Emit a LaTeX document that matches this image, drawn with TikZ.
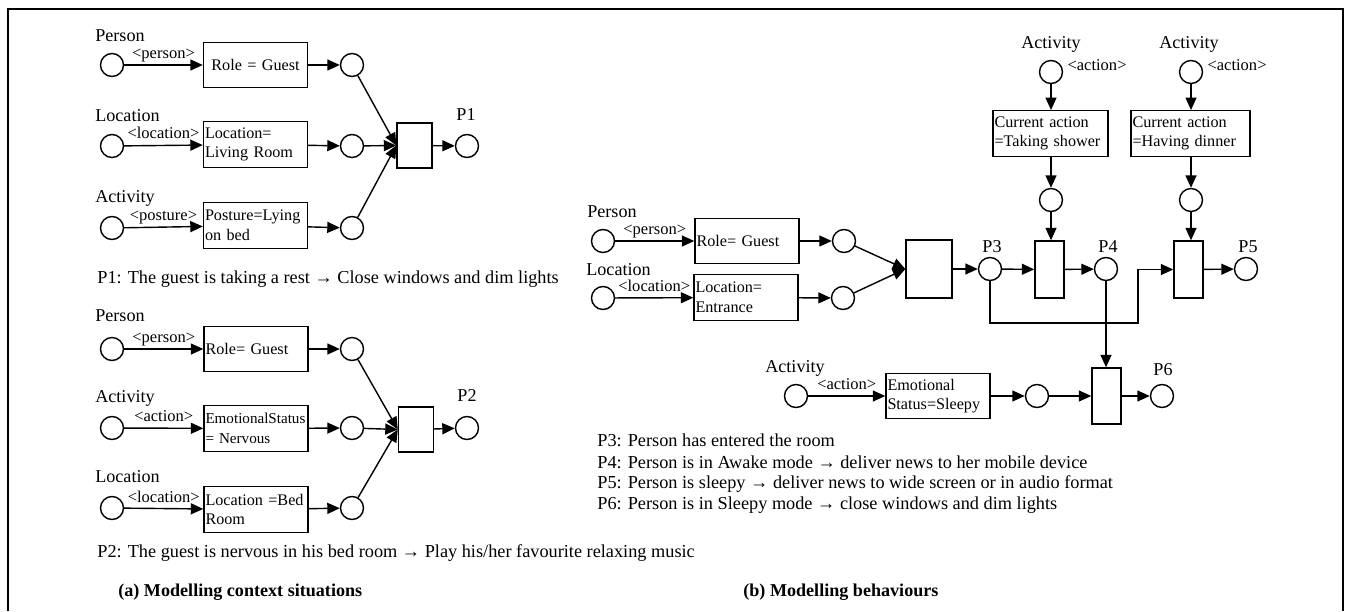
\documentclass[tikz,border=0pt]{standalone}
\usepackage{fontspec}
\setmainfont{Liberation Serif}
\usetikzlibrary{arrows.meta, positioning}

\begin{document}
\begin{tikzpicture}[
    x=0.2mm, y=-0.2mm,
    place/.style={circle, draw, line width=0.8pt, minimum size=4.6mm, inner sep=0pt},
    trans/.style={rectangle, draw, line width=0.8pt, minimum width=7mm, minimum height=9mm, inner sep=0pt},
    cond/.style={rectangle, draw, line width=0.8pt, text width=#1, inner xsep=0.3mm, inner ysep=0pt,
                 minimum height=9.1mm, align=left, font=\fontsize{9.2}{11.2}\selectfont},
    lbl/.style={anchor=base west, inner sep=0pt, font=\fontsize{10.3}{12}\selectfont},
    tag/.style={anchor=base, yshift=1.3mm, inner sep=0pt, font=\fontsize{9.4}{10}\selectfont},
    note/.style={anchor=base west, inner sep=0pt, font=\fontsize{10.4}{12.5}\selectfont},
    arrow/.style={-{Triangle[length=2.5mm, width=2.2mm]}, line width=0.8pt}
]
    \useasboundingbox (0,0) rectangle (1348,611);
    \draw[line width=1.2pt] (8,611) |- (1343,9) -- (1343,611);

    % (a) first situation
    \node[lbl] (nper1) at (95,41) {Person};
    \node[lbl] (nloc1) at (95,121) {Location};
    \node[lbl] (nact1) at (95,202) {Activity};
    \node[place] (pers1) at (112,65) {};
    \node[place] (loc1) at (112,146) {};
    \node[place] (act1) at (112,228) {};
    \node[cond=20.2mm, align=center] (role1) at (255.5,65) {Role = Guest};
    \node[cond=20.2mm] (living) at (255.5,144.5) {Location=\\Living Room};
    \node[cond=20.2mm] (lying) at (255.5,225.5) {Posture=Lying\\on bed};
    \node[place] (q11) at (352,65) {};
    \node[place] (q12) at (352,146) {};
    \node[place] (q13) at (352,228) {};
    \node[trans] (t1) at (414.5,145.5) {};
    \node[place] (p1) at (467,146) {};
    \node[lbl, anchor=base] (np1) at (466,120) {P1};
    \draw[arrow] (pers1) -- node[tag] {<person>} (role1);
    \draw[arrow] (loc1) -- node[tag] {<location>} (living);
    \draw[arrow] (act1) -- node[tag] {<posture>} (lying);
    \draw[arrow] (role1) -- (q11);
    \draw[arrow] (living) -- (q12);
    \draw[arrow] (lying) -- (q13);
    \draw[arrow] (q11) -- (t1.west);
    \draw[arrow] (q12) -- (t1.west);
    \draw[arrow] (q13) -- (t1.west);
    \draw[arrow] (t1) -- (p1);
    \node[note] (d1) at (97,283) {P1: The guest is taking a rest → Close windows and dim lights};

    % (a) second situation
    \node[lbl] (nper2) at (95,321) {Person};
    \node[lbl] (nact2) at (95,402) {Activity};
    \node[lbl] (nloc2) at (95,482) {Location};
    \node[place] (pers2) at (112,349) {};
    \node[place] (act2) at (112,428) {};
    \node[place] (loc2) at (112,508) {};
    \node[cond=20.2mm] (role2) at (256,349) {Role= Guest};
    \node[cond=20.2mm, font=\fontsize{8.6}{11.2}\selectfont] (nerv) at (256,428.5) {EmotionalStatus\\= Nervous};
    \node[cond=20.2mm] (bed) at (256,509.5) {Location =Bed\\Room};
    \node[place] (q21) at (352,349) {};
    \node[place] (q22) at (352,428) {};
    \node[place] (q23) at (352,508) {};
    \node[trans] (t2) at (416,429.5) {};
    \node[place] (p2) at (467,428) {};
    \node[lbl, anchor=base] (np2) at (467,401) {P2};
    \draw[arrow] (pers2) -- node[tag] {<person>} (role2);
    \draw[arrow] (act2) -- node[tag] {<action>} (nerv);
    \draw[arrow] (loc2) -- node[tag] {<location>} (bed);
    \draw[arrow] (role2) -- (q21);
    \draw[arrow] (nerv) -- (q22);
    \draw[arrow] (bed) -- (q23);
    \draw[arrow] (q21) -- (t2.west);
    \draw[arrow] (q22) -- (t2.west);
    \draw[arrow] (q23) -- (t2.west);
    \draw[arrow] (t2) -- (p2);
    \node[note] (d2) at (97,557) {P2: The guest is nervous in his bed room → Play his/her favourite relaxing music};

    % (b) behaviours
    \node[lbl] (nper3) at (587,217) {Person};
    \node[lbl] (nloc3) at (586,275) {Location};
    \node[place] (pers3) at (603,241) {};
    \node[place] (loc3) at (603,298) {};
    \node[cond=20.2mm] (role3) at (747,241) {Role= Guest};
    \node[cond=20.2mm] (entr) at (746,297.5) {Location=\\Entrance};
    \node[place] (q31) at (844,241) {};
    \node[place] (q32) at (843,298) {};
    \node[trans, minimum width=9.2mm, minimum height=11.6mm] (t3) at (929,269) {};
    \node[place] (p3) at (990,269) {};
    \node[lbl, anchor=base] (np3) at (992,252) {P3};
    \draw[arrow] (pers3) -- node[tag] {<person>} (role3);
    \draw[arrow] (loc3) -- node[tag] {<location>} (entr);
    \draw[arrow] (role3) -- (q31);
    \draw[arrow] (entr) -- (q32);
    \draw[arrow] (q31) -- (t3.west);
    \draw[arrow] (q32) -- (t3.west);
    \draw[arrow] (t3) -- (p3);

    % taking shower -> P4
    \node[lbl, anchor=base] (nact4) at (1051,48) {Activity};
    \node[place] (act4) at (1051,72) {};
    \node[tag, anchor=west, yshift=0pt, right=0.8mm of act4] (tag4) {<action>};
    \node[cond=22.4mm] (shower) at (1050.5,133.5) {Current action\\=Taking shower};
    \node[place] (q4) at (1051,200) {};
    \node[trans, minimum width=5.8mm, minimum height=11.4mm] (t4) at (1049.5,269.5) {};
    \node[place] (p4) at (1106,269) {};
    \node[lbl, anchor=base] (np4) at (1108,252) {P4};
    \draw[arrow] (act4) -- (act4 |- shower.north);
    \draw[arrow] (q4 |- shower.south) -- (q4);
    \draw[arrow] (q4) -- (q4 |- t4.north);
    \draw[arrow] (p3) -- (t4);
    \draw[arrow] (t4) -- (p4);

    % having dinner -> P5
    \node[lbl, anchor=base] (nact5) at (1189,48) {Activity};
    \node[place] (act5) at (1191,72) {};
    \node[tag, anchor=west, yshift=0pt, right=0.8mm of act5] (tag5) {<action>};
    \node[cond=23.2mm] (dinner) at (1190.5,133.5) {Current action\\=Having dinner};
    \node[place] (q5) at (1191,200) {};
    \node[trans, minimum width=5.8mm, minimum height=11.4mm] (t5) at (1188.5,269.5) {};
    \node[place] (p5) at (1246,269) {};
    \node[lbl, anchor=base] (np5) at (1248,252) {P5};
    \coordinate (bend) at (1138,323);
    \draw[arrow] (act5) -- (act5 |- dinner.north);
    \draw[arrow] (q5 |- dinner.south) -- (q5);
    \draw[arrow] (q5) -- (q5 |- t5.north);
    \draw[arrow] (p3) |- (bend) |- (t5);
    \draw[arrow] (t5) -- (p5);

    % sleepy -> P6
    \node[lbl] (nact6) at (765,372) {Activity};
    \node[place] (act6) at (796,396) {};
    \node[cond=20.2mm] (sleepy) at (938,396) {Emotional\\Status=Sleepy};
    \node[place] (q6) at (1037,396) {};
    \node[trans, minimum width=5.8mm, minimum height=11.2mm] (t6) at (1106.5,396) {};
    \node[place] (p6) at (1162,396) {};
    \node[lbl, anchor=base] (np6) at (1163,375) {P6};
    \draw[arrow] (act6) -- node[tag] {<action>} (sleepy);
    \draw[arrow] (sleepy) -- (q6);
    \draw[arrow] (q6) -- (t6);
    \draw[arrow] (t6) -- (p6);
    \draw[arrow] (p4) -- (p4 |- t6.north);

    \node[note] (d3) at (597,446) {P3: Person has entered the room};
    \node[note] (d4) at (597,468) {P4: Person is in Awake mode → deliver news to her mobile device};
    \node[note] (d5) at (597,488) {P5: Person is sleepy → deliver news to wide screen or in audio format};
    \node[note] (d6) at (597,509) {P6: Person is in Sleepy mode → close windows and dim lights};

    \node[note, font=\fontsize{10.3}{12}\selectfont\bfseries] (capa) at (118,596) {(a) Modelling context situations};
    \node[note, font=\fontsize{10.3}{12}\selectfont\bfseries] (capb) at (743,596) {(b) Modelling behaviours};
\end{tikzpicture}
\end{document}
